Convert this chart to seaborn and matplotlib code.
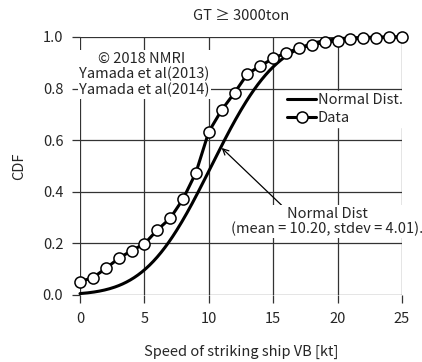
import math
import numpy as np
import pandas as pd
import matplotlib
matplotlib.use("Agg")
import matplotlib.pyplot as plt
import seaborn as sns

# %% data
speed = list(range(0, 26))
cdf_data = [0.052, 0.067, 0.103, 0.142, 0.172, 0.198, 0.252, 0.297, 0.372, 0.474,
            0.633, 0.717, 0.784, 0.857, 0.888, 0.917, 0.939, 0.956, 0.969, 0.979,
            0.986, 0.991, 0.996, 0.998, 1.000, 1.000]
norm_mean = 10.20
norm_std = 4.01

x_ticks = [0, 5, 10, 15, 20, 25]
y_ticks = [0.0, 0.2, 0.4, 0.6, 0.8, 1.0]

# %% normal CDF with the stated parameters
xs = np.linspace(0, 25, 251)
norm_cdf = [0.5 * (1 + math.erf((v - norm_mean) / (norm_std * math.sqrt(2)))) for v in xs]
df_norm = pd.DataFrame({"speed": xs, "cdf": norm_cdf})
df_data = pd.DataFrame({"speed": speed, "cdf": cdf_data})

# %% style
sns.set_style("white")
plt.rcParams["font.family"] = ["Noto Sans CJK JP", "DejaVu Sans"]
fs = 10.5

fig = plt.figure(figsize=(4.22, 3.62), dpi=100)
ax = fig.add_axes([80 / 422, 1 - 295 / 362, 322 / 422, 258 / 362])

sns.lineplot(data=df_norm, x="speed", y="cdf", ax=ax, color="black", lw=2.2,
             label="Normal Dist.", clip_on=False, zorder=3)
sns.lineplot(data=df_data, x="speed", y="cdf", ax=ax, color="black", lw=2.2,
             marker="o", markersize=8, markerfacecolor="white",
             markeredgecolor="black", markeredgewidth=1.1,
             label="Data", clip_on=False, zorder=4)

ax.set_xlim(0, 25)
ax.set_ylim(0, 1)
ax.set_xticks(x_ticks)
ax.set_yticks(y_ticks)
ax.set_yticklabels([f"{v:.1f}" for v in y_ticks])
for s in ax.spines.values():
    s.set_visible(False)
ax.grid(True, color="#333333", lw=0.9)
ax.set_axisbelow(True)
ax.tick_params(direction="out", length=6, width=0.9, color="#333333",
               labelsize=fs, pad=6, left=True, bottom=True)

ax.set_xlabel("Speed of striking ship VB [kt]", fontsize=fs, labelpad=14)
ax.set_ylabel("CDF", fontsize=fs, labelpad=12)
ax.set_title("GT ≥ 3000ton", fontsize=fs, pad=12)

leg = ax.legend(loc="upper left", bbox_to_anchor=(0.637, 0.79), fontsize=fs,
                frameon=True, fancybox=False, edgecolor="white", framealpha=1,
                handlelength=2.0, handletextpad=0.1, labelspacing=0.25,
                borderpad=0.15, borderaxespad=0)

ax.text(5.0, 0.855, "© 2018 NMRI  \nYamada et al(2013)\nYamada et al(2014)",
        ha="center", va="center", fontsize=fs, linespacing=1.1,
        bbox=dict(facecolor="white", edgecolor="none", pad=1), zorder=5)

ax.annotate("Normal Dist\n(mean = 10.20, stdev = 4.01).", xy=(11.0, 0.57),
            xytext=(19.2, 0.285), ha="center", va="center", fontsize=fs,
            linespacing=1.1,
            bbox=dict(facecolor="white", edgecolor="none", pad=1),
            arrowprops=dict(arrowstyle="->", color="black", lw=0.9,
                            shrinkA=0, shrinkB=0, relpos=(0.27, 1.0)),
            zorder=5)

fig.savefig("out.png", dpi=100)
